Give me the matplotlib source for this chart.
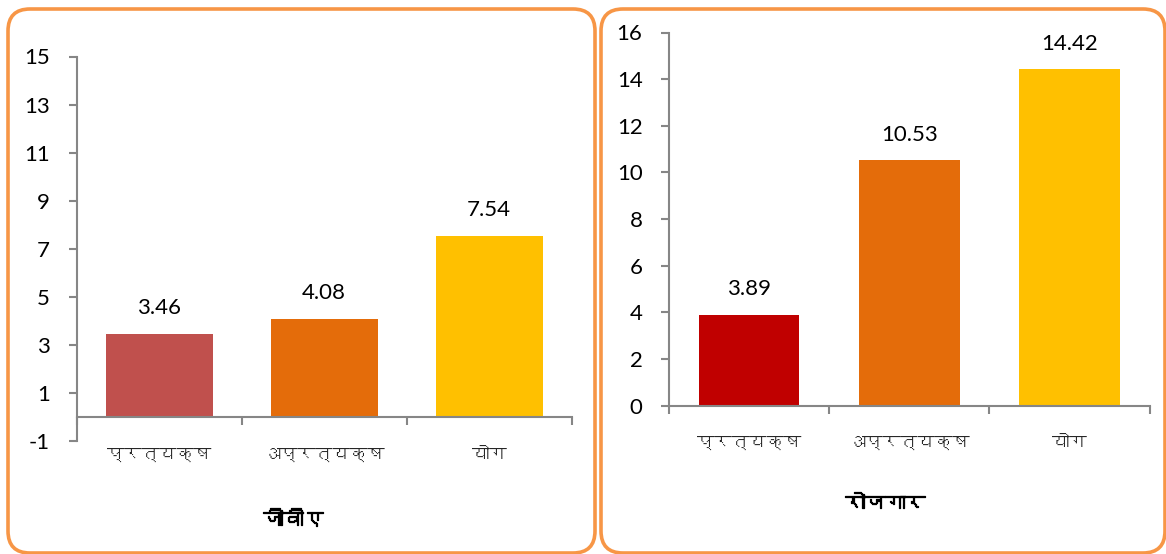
import matplotlib
matplotlib.use("Agg")
import matplotlib.pyplot as plt
from matplotlib import font_manager as fm
from matplotlib.patches import FancyBboxPatch
import matplotlib.patheffects as pe
import matplotlib.transforms as mtrans

# ---- data ----
categories = ["प्रत्यक्ष", "अप्रत्यक्ष", "योग"]
gva_values = [3.46, 4.08, 7.54]
emp_values = [3.89, 10.53, 14.42]
gva_title = "जीवीए"
emp_title = "रोजगार"
gva_ticks = [-1, 1, 3, 5, 7, 9, 11, 13, 15]
emp_ticks = [0, 2, 4, 6, 8, 10, 12, 14, 16]
gva_colors = ["#C0504D", "#E46C0A", "#FFC000"]
emp_colors = ["#C00000", "#E46C0A", "#FFC000"]

# ---- find a Devanagari-capable font ----
deva = None
try:
    from fontTools.ttLib import TTFont
    for f in fm.fontManager.ttflist:
        try:
            tt = TTFont(f.fname, fontNumber=0, lazy=True)
            cm = tt.getBestCmap()
            if cm and 0x092A in cm and 0x0915 in cm and 0x094D in cm:
                deva = f.name
                break
        except Exception:
            pass
except Exception:
    pass

num_family = ["Lato", "DejaVu Sans"]
deva_family = ([deva] if deva else []) + ["Lato", "DejaVu Sans"]
plt.rcParams["font.family"] = num_family

W, H = 1166, 554
fig = plt.figure(figsize=(W / 100, H / 100), dpi=100)
fig.patch.set_facecolor("white")

AX_COL = "#868686"
BORDER = "#F79646"


def px_axes(x0, y0, x1, y1):
    return fig.add_axes([x0 / W, 1 - y1 / H, (x1 - x0) / W, (y1 - y0) / H])


def border(x0, y0, x1, y1):
    tr = fig.dpi_scale_trans
    p = FancyBboxPatch((x0 / 100, (H - y1) / 100), (x1 - x0) / 100, (y1 - y0) / 100,
                       boxstyle="round,pad=0,rounding_size=0.22",
                       transform=tr, facecolor="none", edgecolor=BORDER,
                       linewidth=2.6, zorder=10)
    fig.patches.append(p)


def draw(ax, values, colors, ticks, ylim, width, title, title_xy, cat_y):
    x = list(range(len(categories)))
    bars = ax.bar(x, values, width=width, color=colors, zorder=2)
    ax.set_xlim(-0.5, len(categories) - 0.5)
    ax.set_ylim(*ylim)
    ax.set_yticks(ticks)
    ax.set_yticklabels([str(t) for t in ticks], fontsize=16, color="black")
    for s in ["top", "right"]:
        ax.spines[s].set_visible(False)
    ax.spines["left"].set_color(AX_COL)
    ax.spines["left"].set_linewidth(1.5)
    ax.spines["bottom"].set_color(AX_COL)
    ax.spines["bottom"].set_linewidth(1.5)
    ax.spines["bottom"].set_position(("data", 0))
    ax.tick_params(axis="y", direction="out", length=6, width=1.5, color=AX_COL, pad=13)
    ax.set_xticks([i - 0.5 for i in range(len(categories) + 1)])
    ax.set_xticklabels([])
    ax.tick_params(axis="x", direction="out", length=6, width=1.5, color=AX_COL)
    for b, v in zip(bars, values):
        ax.annotate(f"{v:.2f}", (b.get_x() + b.get_width() / 2, v),
                    xytext=(0, 14), textcoords="offset points",
                    ha="center", va="baseline", fontsize=16, color="black")
    trans = mtrans.blended_transform_factory(ax.transData, fig.transFigure)
    for i, c in enumerate(categories):
        ax.text(i, 1 - cat_y / H, c, transform=trans, ha="center", va="center",
                fontsize=12.5, family=deva_family, color="#262626")
    fig.text(title_xy[0] / W, 1 - title_xy[1] / H, title, ha="center", va="center",
             fontsize=14.5, fontweight="bold", family=deva_family, color="black",
             path_effects=[pe.withStroke(linewidth=0.9, foreground="black")])


ax1 = px_axes(76.5, 56.5, 571.8, 441)
draw(ax1, gva_values, gva_colors, gva_ticks, (-1, 15), 0.648, gva_title, (293, 519), 455)

ax2 = px_axes(668.9, 32.5, 1149.6, 405.6)
draw(ax2, emp_values, emp_colors, emp_ticks, (0, 16), 0.63, emp_title, (885, 503), 443)

border(8, 9, 595, 553)
border(601, 9, 1165, 553)

fig.savefig("out.png", dpi=100, facecolor="white")
